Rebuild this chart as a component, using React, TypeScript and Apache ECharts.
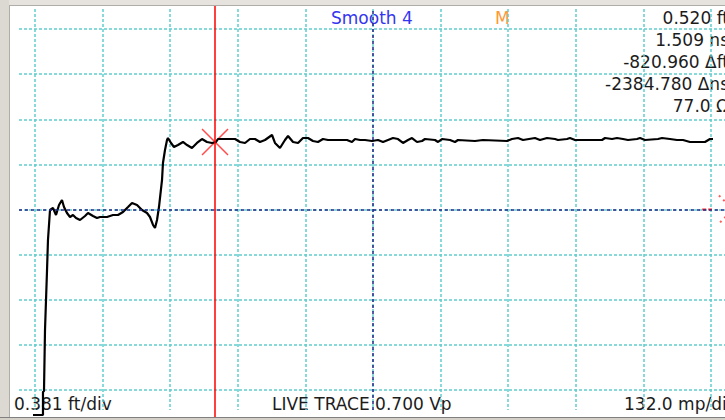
import React, { useEffect, useRef } from "react";
import * as echarts from "echarts";

// Trace, in screen divisions (x: 0..10 horizontal divisions, y: 0..8 vertical divisions)
const traceX = [
  -0.37, 0.118, 0.118, 0.133, 0.148, 0.178, 0.192, 0.222, 0.266, 0.311, 0.355, 0.399, 0.429, 0.473,
  0.518, 0.562, 0.607, 0.666, 0.74, 0.784, 0.858, 0.917, 0.962, 1.065, 1.154, 1.228, 1.302, 1.376,
  1.435, 1.509, 1.583, 1.657, 1.701, 1.746, 1.775, 1.805, 1.834, 1.879, 1.893, 1.923, 1.953, 1.967,
  2.012, 2.056, 2.115, 2.189, 2.249, 2.322, 2.396, 2.47, 2.544, 2.618, 2.678, 2.707, 2.959, 3.033,
  3.107, 3.18, 3.254, 3.328, 3.402, 3.506, 3.55, 3.624, 3.698, 3.743, 3.817, 3.891, 3.964, 4.038,
  4.112, 4.186, 4.26, 4.334, 4.512, 4.615, 4.689, 4.734, 4.808, 4.882, 4.985, 5.074, 5.148, 5.222,
  5.296, 5.37, 5.444, 5.518, 5.577, 5.651, 5.725, 5.769, 5.917, 5.962, 6.021, 6.139, 6.213, 6.257,
  6.509, 6.627, 6.982, 7.056, 7.145, 7.219, 7.396, 7.47, 7.574, 7.692, 7.737, 7.87, 7.914, 7.988,
  8.388, 8.432, 8.536, 8.609, 8.698, 8.772, 8.905, 8.95, 9.024, 9.216, 9.275, 9.393, 9.497, 9.586,
  9.689, 9.911, 9.985, 10.207, 10.355,
];
const traceY = [
  -0.554, -0.554, -0.044, -0.022, 1.33, 2.659, 3.324, 3.989, 4.033, 3.878, 4.1, 4.211, 4.055, 3.922,
  3.834, 3.878, 3.812, 3.767, 3.856, 3.922, 3.856, 3.812, 3.834, 3.834, 3.878, 3.878, 3.945, 4.055,
  4.144, 4.1, 3.989, 3.922, 3.834, 3.657, 3.59, 3.767, 4.055, 4.654, 5.03, 5.319, 5.54, 5.584,
  5.474, 5.385, 5.429, 5.496, 5.429, 5.363, 5.474, 5.562, 5.496, 5.474, 5.496, 5.562, 5.562, 5.496,
  5.474, 5.562, 5.562, 5.496, 5.54, 5.651, 5.474, 5.363, 5.54, 5.629, 5.496, 5.474, 5.584, 5.584,
  5.518, 5.496, 5.562, 5.54, 5.54, 5.54, 5.496, 5.562, 5.54, 5.54, 5.518, 5.54, 5.496, 5.54,
  5.584, 5.562, 5.474, 5.54, 5.584, 5.496, 5.518, 5.562, 5.54, 5.496, 5.562, 5.54, 5.496, 5.54,
  5.518, 5.54, 5.518, 5.562, 5.584, 5.54, 5.584, 5.54, 5.584, 5.562, 5.54, 5.562, 5.584, 5.54,
  5.54, 5.584, 5.562, 5.584, 5.562, 5.54, 5.562, 5.584, 5.54, 5.562, 5.584, 5.562, 5.54, 5.54,
  5.496, 5.496, 5.562, 5.562, 5.562,
];

const xDivisions = 10;
const yDivisions = 8;
const centerX = 5;
const centerY = 4;
const cursorX = 2.663;
const cursorMarkY = 5.496;
const refMarkX = 10.325;
const refMarkY = 4;
const refDashX = [9.87, 10.4];

const headerTitle = "Smooth 4";
const markerLabel = "M";
const readouts = ["0.520 ft", "1.509 ns", "-820.960 Δft", "-2384.780 Δns", "77.0 Ω"];
const bottomLabels = ["0.381 ft/div", "LIVE TRACE 0.700 Vp", "132.0 mp/div"];

const FONT = "DejaVu Sans";
const GRID_COLOR = "#62cdcd";
const CENTER_COLOR = "#28288a";
const TEXT_COLOR = "#1c1c1c";

export default function App() {
  const ref = useRef<HTMLDivElement>(null);

  useEffect(() => {
    if (!ref.current) return;
    const chart = echarts.init(ref.current, undefined, { renderer: "svg" });

    const hidden = {
      axisLine: { show: false },
      axisTick: { show: false },
      axisLabel: { show: false },
    };
    const gridLine = {
      show: true,
      lineStyle: { color: GRID_COLOR, type: [3, 2] as number[], width: 1.5 },
    };
    const centerLine = { color: CENTER_COLOR, type: [3, 3] as number[], width: 1.5 };

    const tracePoints = traceX.map((x, i) => [x, traceY[i]]);

    const textStyle = (extra: any) => ({
      fontFamily: FONT,
      fontSize: 17,
      fill: TEXT_COLOR,
      verticalAlign: "middle",
      ...extra,
    });

    const readoutRows = [18, 40, 62, 84, 106];

    chart.setOption({
      animation: false,
      backgroundColor: "#ffffff",
      grid: [
        { left: 35, top: 9, width: 676, height: 401 },
        { left: 19, top: 29, width: 706, height: 361 },
        { left: 35, top: 29, width: 676, height: 361 },
        { left: 35, top: 6, width: 676, height: 411 },
      ],
      xAxis: [
        { gridIndex: 0, type: "value", min: 0, max: xDivisions, interval: 1, ...hidden, splitLine: gridLine },
        { gridIndex: 1, type: "value", min: 0, max: 1, show: false },
        { gridIndex: 2, type: "value", min: 0, max: xDivisions, show: false },
        { gridIndex: 3, type: "value", min: 0, max: xDivisions, show: false },
      ],
      yAxis: [
        { gridIndex: 0, type: "value", min: 0, max: 1, show: false },
        { gridIndex: 1, type: "value", min: 0, max: yDivisions, interval: 1, ...hidden, splitLine: gridLine },
        { gridIndex: 2, type: "value", min: 0, max: yDivisions, show: false },
        { gridIndex: 3, type: "value", min: 0, max: 1, show: false },
      ],
      series: [
        {
          type: "scatter",
          xAxisIndex: 0,
          yAxisIndex: 0,
          data: [[centerX, 0]],
          symbolSize: 0,
          silent: true,
          markLine: {
            silent: true,
            symbol: "none",
            label: { show: false },
            lineStyle: centerLine,
            data: [{ xAxis: centerX }],
          },
        },
        {
          type: "scatter",
          xAxisIndex: 1,
          yAxisIndex: 1,
          data: [[0, centerY]],
          symbolSize: 0,
          silent: true,
          markLine: {
            silent: true,
            symbol: "none",
            label: { show: false },
            lineStyle: centerLine,
            data: [{ yAxis: centerY }],
          },
        },
        {
          type: "line",
          xAxisIndex: 2,
          yAxisIndex: 2,
          data: refDashX.map((x) => [x, refMarkY]),
          showSymbol: false,
          clip: false,
          silent: true,
          lineStyle: { color: "#ff2a2a", width: 2, type: [4, 2] },
        },
        {
          type: "line",
          xAxisIndex: 2,
          yAxisIndex: 2,
          data: tracePoints,
          showSymbol: false,
          clip: false,
          silent: true,
          lineStyle: { color: "#000000", width: 2.2 },
        },
        {
          type: "scatter",
          xAxisIndex: 3,
          yAxisIndex: 3,
          data: [[cursorX, 0]],
          symbolSize: 0,
          silent: true,
          markLine: {
            silent: true,
            symbol: "none",
            label: { show: false },
            lineStyle: { color: "#ff0000", type: "solid", width: 1.5 },
            data: [{ xAxis: cursorX }],
          },
        },
        {
          type: "scatter",
          xAxisIndex: 2,
          yAxisIndex: 2,
          data: [[cursorX, cursorMarkY]],
          symbol: "path://M0,0L10,10M10,0L0,10",
          symbolSize: 26,
          silent: true,
          clip: false,
          itemStyle: { color: "none", borderColor: "#ff2020", borderWidth: 1.5 },
        },
        {
          type: "scatter",
          xAxisIndex: 2,
          yAxisIndex: 2,
          data: [[refMarkX, refMarkY]],
          symbol: "path://M0,0L10,10M10,0L0,10",
          symbolSize: 28,
          silent: true,
          clip: false,
          itemStyle: { color: "none", borderColor: "#ff3030", borderWidth: 2, borderType: [2, 4] },
        },
      ],
      graphic: [
        { type: "rect", silent: true, shape: { x: 0, y: 0, width: 725, height: 5 }, style: { fill: "#e6e3de" } },
        { type: "rect", silent: true, shape: { x: 0, y: 0, width: 9, height: 420 }, style: { fill: "#dcd8d2" } },
        { type: "rect", silent: true, shape: { x: 0, y: 417, width: 725, height: 3 }, style: { fill: "#d4d0c8" } },
        { type: "line", silent: true, shape: { x1: 9, y1: 5.5, x2: 725, y2: 5.5 }, style: { stroke: "#b0aca8", lineWidth: 1 } },
        { type: "line", silent: true, shape: { x1: 9.5, y1: 5, x2: 9.5, y2: 417 }, style: { stroke: "#b0aca8", lineWidth: 1 } },
        { type: "line", silent: true, shape: { x1: 0, y1: 417.5, x2: 725, y2: 417.5 }, style: { stroke: "#808080", lineWidth: 1 } },
        { type: "text", silent: true, x: 331, y: 18, style: textStyle({ text: headerTitle, fill: "#3535f0" }) },
        { type: "text", silent: true, x: 495, y: 18, style: textStyle({ text: markerLabel, fill: "#ff9933" }) },
        ...readouts.map((t, i) => ({
          type: "text",
          silent: true,
          x: 729,
          y: readoutRows[i],
          style: textStyle({ text: t, align: "right" }),
        })),
        { type: "text", silent: true, x: 14, y: 404, style: textStyle({ text: bottomLabels[0] }) },
        { type: "text", silent: true, x: 272, y: 404, style: textStyle({ text: bottomLabels[1] }) },
        { type: "text", silent: true, x: 624, y: 404, style: textStyle({ text: bottomLabels[2] }) },
      ],
    });

    return () => chart.dispose();
  }, []);

  return (
    <div
      ref={ref}
      style={{ position: "absolute", left: 0, top: 0, width: 725, height: 420, background: "#fff" }}
    />
  );
}
